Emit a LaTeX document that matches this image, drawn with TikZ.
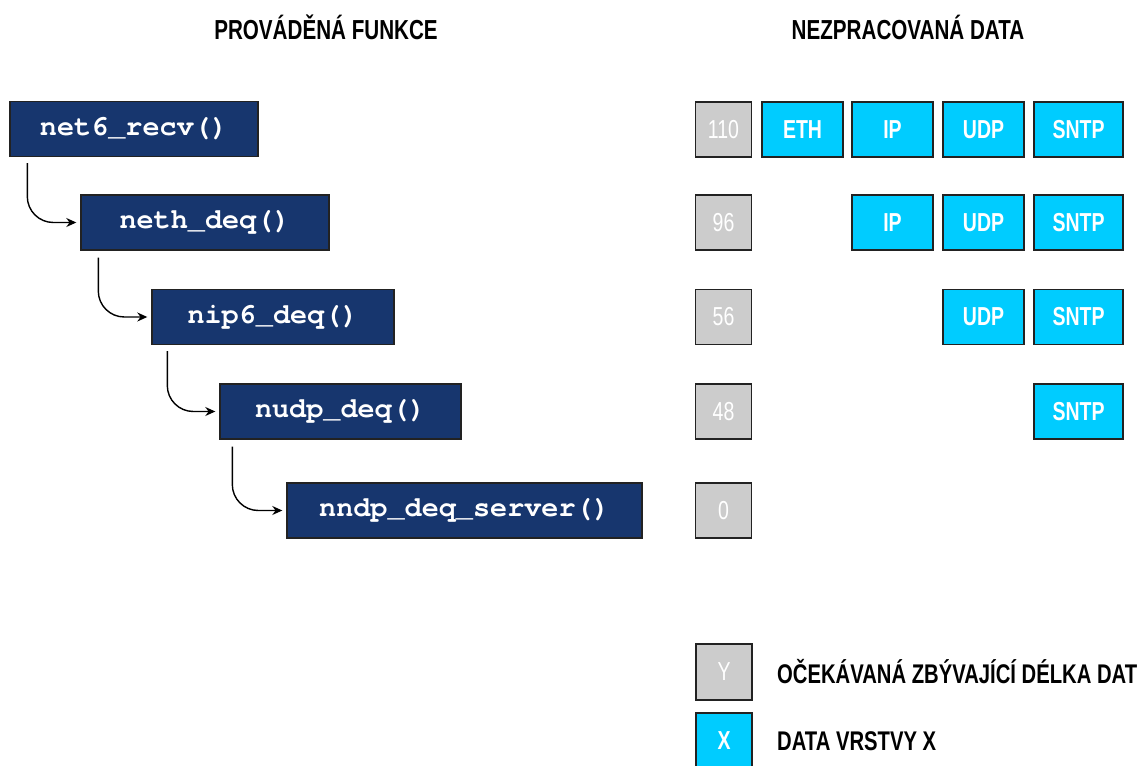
\documentclass[tikz,border=0pt]{standalone}
\usepackage{fontspec}
\setmainfont{Liberation Sans}[FakeStretch=0.75]
\newfontfamily\codefont{TeX Gyre Cursor}
\usetikzlibrary{arrows.meta,calc}
\definecolor{fnblue}{HTML}{17366E}
\definecolor{laycyan}{HTML}{00CCFF}
\definecolor{lengray}{HTML}{CCCCCC}
\definecolor{edge}{HTML}{222222}
\tikzset{
  fnbox/.style={draw=edge, line width=1.4pt, fill=fnblue, text=white, minimum height=55pt, inner sep=0pt, font=\codefont\bfseries\fontsize{28.5}{28.5}\selectfont},
  lenbox/.style={draw=edge, line width=1.4pt, fill=lengray, text=white, minimum width=56pt, minimum height=55pt, inner sep=0pt, font=\fontsize{26}{26}\selectfont},
  laybox/.style={draw=edge, line width=1.4pt, fill=laycyan, text=white, minimum width=81pt, minimum height=55pt, inner sep=0pt, font=\bfseries\fontsize{26}{26}\selectfont},
  hdr/.style={font=\bfseries\fontsize{27.5}{27.5}\selectfont, text=black},
  legtxt/.style={font=\bfseries\fontsize{27}{27}\selectfont, text=black, anchor=west, inner sep=0pt},
  callarrow/.style={line width=1.4pt, rounded corners=26pt, -{Stealth[length=10pt,width=9pt]}}
}
\begin{document}
\begin{tikzpicture}[x=1pt,y=-1pt]
\useasboundingbox (0,0) rectangle (1142,765);
% headers
\node[hdr] (h1) at (326,27) {PROVÁDĚNÁ FUNKCE};
\node[hdr] (h2) at (908,27) {NEZPRACOVANÁ DATA};
% function boxes
\node[fnbox, minimum width=248pt] (f1) at (134,129) {net6\_recv()};
\node[fnbox, minimum width=248pt] (f2) at (205,222.5) {neth\_deq()};
\node[fnbox, minimum width=242pt] (f3) at (273,317) {nip6\_deq()};
\node[fnbox, minimum width=241pt] (f4) at (340.5,411.5) {nudp\_deq()};
\node[fnbox, minimum width=355pt] (f5) at (464.5,510.5) {nndp\_deq\_server()};
% call arrows
\draw[callarrow] ($(f1.south west)+(18,6)$) |- ($(f2.west)+(-4,0)$);
\draw[callarrow] ($(f2.south west)+(18,7)$) |- ($(f3.west)+(-4,0)$);
\draw[callarrow] ($(f3.south west)+(16,6)$) |- ($(f4.west)+(-4,0)$);
\draw[callarrow] ($(f4.south west)+(13,7)$) |- ($(f5.west)+(-4,0)$);
% data rows
\node[lenbox] (l1) at (723.5,129.5) {110};
\node[laybox] (e1) at (802.5,129.5) {ETH};
\node[laybox] (i1) at (892.5,129.5) {IP};
\node[laybox] (u1) at (983.5,129.5) {UDP};
\node[laybox, minimum width=89pt] (s1) at (1078.5,129.5) {SNTP};
\node[lenbox] (l2) at (723.5,222.5) {96};
\node[laybox] (i2) at (892.5,222.5) {IP};
\node[laybox] (u2) at (983.5,222.5) {UDP};
\node[laybox, minimum width=89pt] (s2) at (1078.5,222.5) {SNTP};
\node[lenbox] (l3) at (723.5,317) {56};
\node[laybox] (u3) at (983.5,317) {UDP};
\node[laybox, minimum width=89pt] (s3) at (1078.5,317) {SNTP};
\node[lenbox] (l4) at (723.5,411.5) {48};
\node[laybox, minimum width=89pt] (s4) at (1078.5,411.5) {SNTP};
\node[lenbox] (l5) at (723.5,510.5) {0};
% legend
\node[lenbox, minimum height=56pt] (ly) at (724,672) {Y};
\node[legtxt] (lyt) at (777,672) {OČEKÁVANÁ ZBÝVAJÍCÍ DÉLKA DAT};
\node[laybox, minimum width=56pt, minimum height=56pt] (lx) at (724,741) {X};
\node[legtxt] (lxt) at (777,741) {DATA VRSTVY X};
\end{tikzpicture}
\end{document}
